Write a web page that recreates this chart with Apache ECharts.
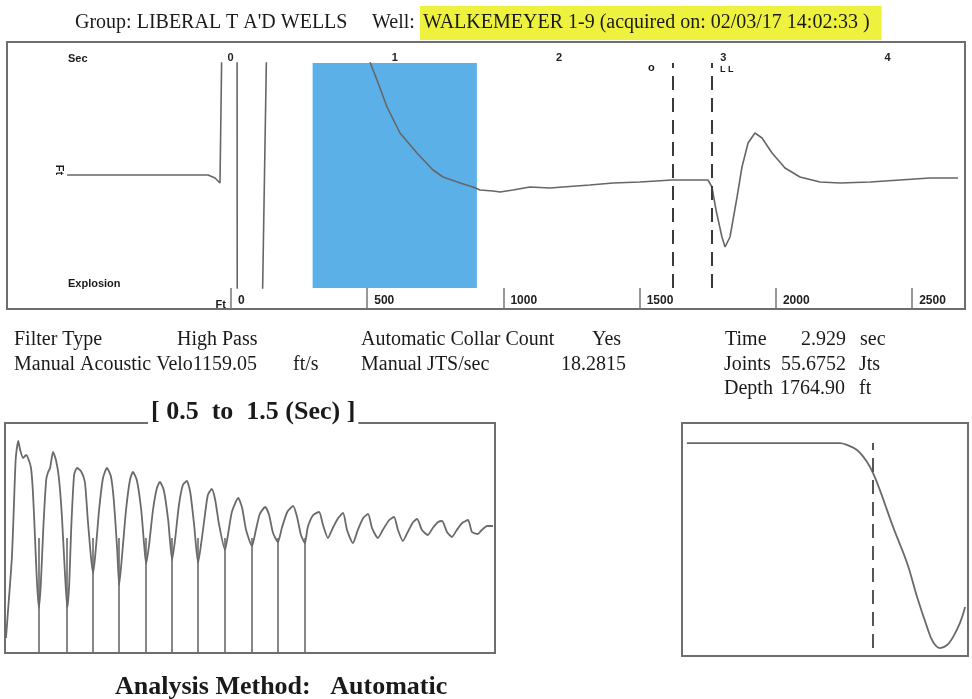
<!DOCTYPE html>
<html><head><meta charset="utf-8">
<script src="https://cdn.jsdelivr.net/npm/echarts@6/dist/echarts.min.js"></script>
<style>html,body{margin:0;padding:0;background:#fff}#c{width:972px;height:699px}</style>
</head><body><div id="c"></div>
<script>
// ---------- data ----------
const timeTicks = [0, 1, 2, 3, 4];
const depthTicks = [0, 500, 1000, 1500, 2000, 2500];
const timeRange = [-1.3607, 4.4718];
const depthRange = [-822, 2694];
const signalTime = [-0.995,-0.500,-0.137,-0.094,-0.064,-0.052,-0.051,0.040,0.041,0.192,0.222,0.825,0.851,0.892,0.953,1.032,1.135,1.233,1.294,1.398,1.476,1.519,1.598,1.641,1.720,1.823,1.945,2.024,2.188,2.329,2.493,2.688,2.907,2.931,2.956,2.992,3.011,3.041,3.084,3.114,3.151,3.193,3.236,3.297,3.376,3.467,3.589,3.711,3.894,4.076,4.258,4.429];
const signalAmp = [0,0,0,-3,-8,-10,150,150,-150,-150,150,150,112,95,68,42,22,5,-2,-8,-12,-15,-16,-17,-15,-12,-13,-12,-10,-8,-7,-5,-5,-12,-35,-62,-72,-62,-22,8,32,42,37,22,7,-2,-7,-8,-7,-5,-3,-3];
const windowSec = [0.5, 1.5];
const pickTimes = [2.688, 2.929];
const zoomTime = [0.502,0.506,0.514,0.518,0.522,0.527,0.531,0.537,0.543,0.547,0.553,0.557,0.561,0.565,0.569,0.573,0.578,0.584,0.588,0.592,0.598,0.604,0.610,0.616,0.622,0.627,0.631,0.635,0.641,0.647,0.655,0.663,0.669,0.676,0.680,0.686,0.692,0.700,0.708,0.716,0.722,0.729,0.733,0.739,0.747,0.755,0.761,0.769,0.778,0.784,0.788,0.794,0.802,0.810,0.816,0.824,0.833,0.841,0.847,0.855,0.863,0.871,0.878,0.886,0.894,0.900,0.908,0.914,0.922,0.929,0.937,0.949,0.955,0.963,0.976,0.984,0.992,1.004,1.012,1.020,1.031,1.039,1.047,1.057,1.065,1.076,1.088,1.096,1.104,1.112,1.118,1.129,1.141,1.149,1.159,1.169,1.180,1.190,1.198,1.210,1.220,1.231,1.241,1.249,1.261,1.271,1.284,1.294,1.302,1.312,1.322,1.333,1.341,1.351,1.363,1.373,1.384,1.392,1.402,1.412,1.422,1.433,1.445,1.453,1.465,1.473,1.484,1.496];
const zoomAmp = [15,41,95,145,195,212,203,195,198,195,185,161,118,73,45,68,123,173,181,185,201,193,175,138,83,45,68,123,178,185,182,171,133,93,80,108,143,175,185,177,153,103,68,98,143,173,181,173,143,108,89,108,143,165,171,163,133,93,113,148,168,172,161,128,90,108,138,158,164,153,128,103,118,141,155,145,123,107,123,139,146,138,120,111,125,141,147,136,118,110,126,138,141,128,115,125,135,140,123,110,123,135,139,125,115,123,133,136,123,112,121,131,134,123,118,125,131,132,121,116,123,130,133,121,119,123,127,127];
const collarTimes = [0.569,0.627,0.680,0.733,0.788,0.841,0.894,0.949,1.004,1.057,1.112];
const collarMarkTop = 115;
const filterX = [1.7,27.3,55.2,57.7,61.2,64.7,66.8,69.2,73.8,78.7,82.2,85.7,87.8,90.2,92.7,94.8,97.2,99.0];
const filterY = [91.4,91.4,91.4,90.6,88.4,83.3,78.5,71.2,55.4,39.9,25.3,12.4,6.0,3.4,4.7,8.2,14.2,21.0];
const filterCut = 66.8;
const filterCutRange = [3.4, 91.4];
const info = {
  group: 'LIBERAL T A\'D WELLS', well: 'WALKEMEYER 1-9 (acquired on: 02/03/17 14:02:33 )',
  time: '2.929', joints: '55.6752', depth: '1764.90', velo: '1159.05', jts: '18.2815'
};

// ---------- chart ----------
const chart = echarts.init(document.getElementById('c'), null, {renderer: 'canvas'});
const serif = '"Liberation Serif", "Times New Roman", serif';
const sans = '"Liberation Sans", Arial, sans-serif';
const txt = (x, y, text, o = {}) => ({
  type: 'text', x, y, z: 100,
  rotation: o.rotation || 0,
  style: Object.assign({text, fill: '#1a1a1a', font: (o.weight || 'normal') + ' ' + (o.size || 20) + 'px ' + (o.family || serif),
    align: o.align || 'left', verticalAlign: 'middle'}, o.extra || {})
});

const option = {
  animation: false,
  backgroundColor: '#fff',
  grid: [
    {left: 7, top: 42, width: 958, height: 267, show: true, borderColor: '#6e6e6e', borderWidth: 2, backgroundColor: 'transparent'},
    {left: 7, top: 63, width: 958, height: 225, show: false},
    {left: 5, top: 423, width: 490, height: 230, show: true, borderColor: '#6e6e6e', borderWidth: 2, backgroundColor: 'transparent'},
    {left: 682, top: 423, width: 286, height: 233, show: true, borderColor: '#6e6e6e', borderWidth: 2, backgroundColor: 'transparent'}
  ],
  xAxis: [
    {gridIndex: 0, type: 'value', position: 'top', min: timeRange[0], max: timeRange[1],
      axisLine: {show: false}, splitLine: {show: false}, axisTick: {show: false},
      axisLabel: {inside: true, customValues: timeTicks, margin: 10, fontSize: 11, fontWeight: 'bold', fontFamily: sans, color: '#222'}},
    {gridIndex: 0, type: 'value', position: 'bottom', min: depthRange[0], max: depthRange[1],
      axisLine: {show: false}, splitLine: {show: false},
      axisTick: {show: true, inside: true, length: 21, customValues: depthTicks, lineStyle: {color: '#777', width: 1.5}},
      axisLabel: {inside: true, customValues: depthTicks, formatter: v => String(v), align: 'left', padding: [0, 0, 0, 7], margin: 2, fontSize: 12, fontWeight: 'bold', fontFamily: sans, color: '#222'}},
    {gridIndex: 1, type: 'value', min: timeRange[0], max: timeRange[1], show: false},
    {gridIndex: 2, type: 'value', min: windowSec[0], max: windowSec[1], show: false},
    {gridIndex: 3, type: 'value', min: 0, max: 100, show: false}
  ],
  yAxis: [
    {gridIndex: 0, type: 'value', min: 0, max: 1, show: false},
    {gridIndex: 1, type: 'value', min: -113, max: 112, show: false},
    {gridIndex: 2, type: 'value', min: 0, max: 230, show: false},
    {gridIndex: 3, type: 'value', min: 0, max: 100, show: false}
  ],
  series: [
    {type: 'line', xAxisIndex: 2, yAxisIndex: 1, clip: true, symbol: 'none', silent: true,
      data: signalTime.map((t, i) => [t, signalAmp[i]]),
      lineStyle: {color: '#666', width: 1.6},
      markArea: {silent: true, itemStyle: {color: '#5cb0e8', opacity: 1}, data: [[{xAxis: windowSec[0]}, {xAxis: windowSec[1]}]]},
      markLine: {silent: true, symbol: ['none', 'none'], label: {show: false},
        lineStyle: {type: [14, 8], color: '#3a3a3a', width: 2},
        data: pickTimes.map(t => ({xAxis: t}))}
    },
    {type: 'line', xAxisIndex: 3, yAxisIndex: 2, symbol: 'none', silent: true, smooth: 0.2,
      data: zoomTime.map((t, i) => [t, zoomAmp[i]]),
      lineStyle: {color: '#6a6a6a', width: 1.8},
      markLine: {silent: true, symbol: ['none', 'none'], label: {show: false},
        lineStyle: {type: 'solid', color: '#6a6a6a', width: 1.6},
        data: collarTimes.map(t => [{coord: [t, 0]}, {coord: [t, collarMarkTop]}])}
    },
    {type: 'line', xAxisIndex: 4, yAxisIndex: 3, symbol: 'none', silent: true, smooth: 0.4,
      data: filterX.map((x, i) => [x, filterY[i]]),
      lineStyle: {color: '#6a6a6a', width: 1.8},
      markLine: {silent: true, symbol: ['none', 'none'], label: {show: false},
        lineStyle: {type: [14, 8], color: '#555', width: 2},
        data: [[{coord: [filterCut, filterCutRange[0]]}, {coord: [filterCut, filterCutRange[1]]}]]}
    }
  ],
  graphic: [
    txt(75, 23, 'Group: ' + info.group),
    txt(372, 23, 'Well: '),
    txt(420, 23, info.well, {extra: {backgroundColor: '#eef23e', padding: [7, 12, 7, 3]}}),
    txt(68, 59, 'Sec', {size: 11, weight: 'bold', family: sans}),
    txt(68, 284, 'Explosion', {size: 11, weight: 'bold', family: sans}),
    txt(59, 170, 'Ft', {size: 11, weight: 'bold', family: sans, rotation: -Math.PI / 2, align: 'center'}),
    txt(226, 305, 'Ft', {size: 11, weight: 'bold', family: sans, align: 'right'}),
    txt(648, 68, 'o', {size: 11, weight: 'bold', family: sans}),
    txt(720, 70, 'L L', {size: 9, weight: 'bold', family: sans}),
    txt(14, 340, 'Filter Type'),
    txt(177, 340, 'High Pass'),
    txt(361, 340, 'Automatic Collar Count'),
    txt(592, 340, 'Yes'),
    txt(725, 340, 'Time'),
    txt(846, 340, info.time, {align: 'right'}),
    txt(860, 340, 'sec'),
    txt(14, 365, 'Manual Acoustic Velo' + info.velo),
    txt(293, 365, 'ft/s'),
    txt(361, 365, 'Manual JTS/sec'),
    txt(626, 365, info.jts, {align: 'right'}),
    txt(724, 365, 'Joints'),
    txt(846, 365, info.joints, {align: 'right'}),
    txt(859, 365, 'Jts'),
    txt(724, 389, 'Depth'),
    txt(845, 389, info.depth, {align: 'right'}),
    txt(859, 389, 'ft'),
    txt(148, 412, '[ 0.5  to  1.5 (Sec) ]', {size: 26, weight: 'bold', extra: {backgroundColor: '#fff', padding: [2, 3, 2, 3]}}),
    txt(115, 687, 'Analysis Method:   Automatic', {size: 26, weight: 'bold'})
  ]
};
chart.setOption(option);
</script></body></html>
